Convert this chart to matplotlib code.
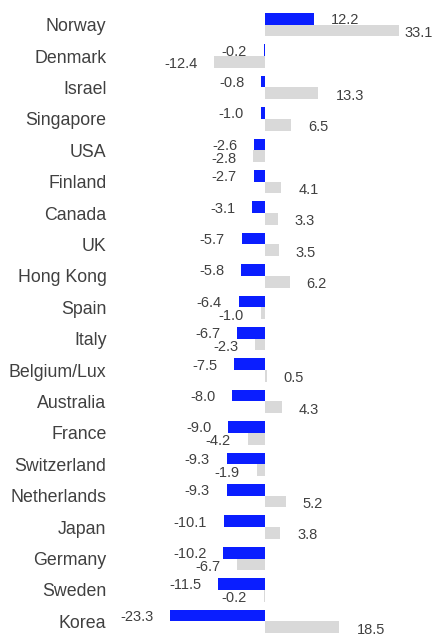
import matplotlib
matplotlib.use("Agg")
import matplotlib.pyplot as plt
import numpy as np

categories = ["Norway", "Denmark", "Israel", "Singapore", "USA", "Finland", "Canada",
              "UK", "Hong Kong", "Spain", "Italy", "Belgium/Lux", "Australia", "France",
              "Switzerland", "Netherlands", "Japan", "Germany", "Sweden", "Korea"]
series_blue = [12.2, -0.2, -0.8, -1.0, -2.6, -2.7, -3.1, -5.7, -5.8, -6.4, -6.7, -7.5,
               -8.0, -9.0, -9.3, -9.3, -10.1, -10.2, -11.5, -23.3]
series_gray = [33.1, -12.4, 13.3, 6.5, -2.8, 4.1, 3.3, 3.5, 6.2, -1.0, -2.3, 0.5,
               4.3, -4.2, -1.9, 5.2, 3.8, -6.7, -0.2, 18.5]

plt.rcParams['font.family'] = ['Liberation Sans', 'DejaVu Sans']

W, H = 433, 641
fig = plt.figure(figsize=(W / 100, H / 100), dpi=100)
top_px, bot_px = 9, 637
left_px = 112
ax = fig.add_axes([left_px / W, (H - bot_px) / H, (W - left_px) / W, (bot_px - top_px) / H])

n = len(categories)
y = np.arange(n)
bh = 0.37
blue = "#0A1EFF"
gray = "#D9D9D9"
txt = "#404040"

ax.barh(y - bh / 2, series_blue, height=bh, color=blue, linewidth=0)
ax.barh(y + bh / 2, series_gray, height=bh, color=gray, linewidth=0)

xmin, xmax = -37.7, 41.6
ax.set_xlim(xmin, xmax)
ax.set_ylim(n - 0.5, -0.5)

gap = 4.2
for yy, vals, off in ((y - bh / 2, series_blue, 0.04), (y + bh / 2, series_gray, 0.08)):
    for yi, v in zip(yy, vals):
        if v >= 0:
            x = min(v + gap, 34.6)
            ha = "left"
        else:
            x = v - gap
            ha = "right"
        ax.text(x, yi + off, f"{v:.1f}", ha=ha, va="center", fontsize=10.5, color=txt)

ax.set_yticks(y)
ax.set_yticklabels(categories, fontsize=12.8, color=txt)
ax.tick_params(axis="y", length=0, pad=4)
ax.set_xticks([])
for s in ax.spines.values():
    s.set_visible(False)

fig.savefig("out.png", dpi=100)
